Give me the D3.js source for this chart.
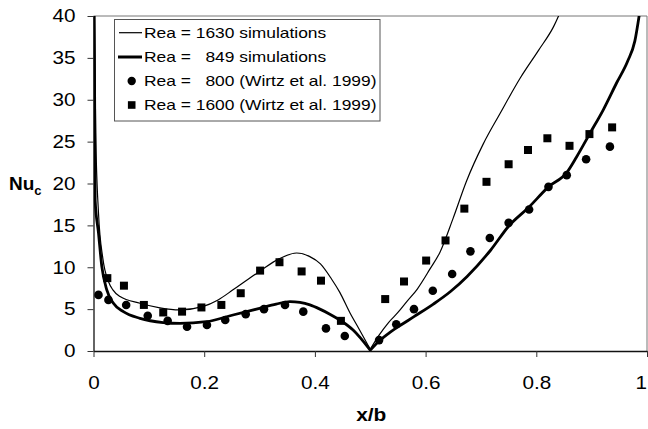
<!DOCTYPE html>
<html>
<head>
<meta charset="utf-8">
<script src="https://cdn.jsdelivr.net/npm/d3@7"></script>
<style>
  html, body { margin: 0; padding: 0; background: #fff; }
  svg { display: block; font-family: "Liberation Sans", Arial, sans-serif; }
</style>
</head>
<body>
<svg id="chart" width="648" height="429"></svg>
<script>
// ---------- data ----------
const xTicks = [0, 0.2, 0.4, 0.6, 0.8, 1];
const xTickLabels = ["0", "0.2", "0.4", "0.6", "0.8", "1"];
const yTicks = [0, 5, 10, 15, 20, 25, 30, 35, 40];
const yTickLabels = ["0", "5", "10", "15", "20", "25", "30", "35", "40"];

const legendLabels = [
  "Rea = 1630 simulations",
  "Rea =   849 simulations",
  "Rea =   800 (Wirtz et al. 1999)",
  "Rea = 1600 (Wirtz et al. 1999)"
];

// Rea = 1630 simulations (thin line)
const sim1630X = [0.001, 0.004, 0.009, 0.017, 0.027, 0.035, 0.048, 0.084, 0.12, 0.155, 0.197, 0.225, 0.252, 0.28, 0.30, 0.335, 0.367, 0.39, 0.41, 0.43, 0.445, 0.463, 0.48, 0.5,
                  0.515, 0.533, 0.55, 0.566, 0.585, 0.608, 0.626, 0.65, 0.674, 0.704, 0.734, 0.771, 0.804, 0.831, 0.85];
const sim1630Y = [44, 26, 16.5, 11, 8.3, 7.3, 6.5, 5.7, 5.15, 4.9, 5.3, 6.1, 7.3, 8.6, 9.5, 11.0, 11.7, 11.3, 10.4, 8.6, 7.0, 4.6, 2.6, 0.2,
                  1.8, 3.4, 4.6, 5.9, 7.4, 9.8, 11.8, 15.9, 20.3, 24.7, 28.3, 32.6, 35.9, 38.7, 41.5];

// Rea = 849 simulations (thick line)
const sim849X = [0.001, 0.003, 0.009, 0.015, 0.024, 0.036, 0.054, 0.084, 0.126, 0.156, 0.204, 0.252, 0.30, 0.33, 0.355, 0.373, 0.391, 0.409, 0.427, 0.445, 0.469, 0.5,
                 0.516, 0.535, 0.553, 0.579, 0.614, 0.645, 0.675, 0.717, 0.75, 0.787, 0.822, 0.855, 0.873, 0.897, 0.921, 0.945, 0.965, 0.978, 0.988];
const sim849Y = [44, 18, 14.1, 10.1, 7.3, 5.7, 4.7, 3.9, 3.4, 3.3, 3.5, 4.3, 5.1, 5.6, 5.9, 5.8, 5.5, 5.0, 4.4, 3.7, 2.5, 0.1,
                 1.2, 2.2, 3.0, 4.1, 5.6, 7.1, 8.9, 12.0, 14.9, 17.2, 19.6, 21.3, 23.2, 26.0, 28.8, 32.0, 34.6, 37, 41];

// Rea = 800 (Wirtz et al. 1999) - circles
const wirtz800X = [0.009, 0.027, 0.059, 0.098, 0.134, 0.169, 0.205, 0.238, 0.275, 0.308, 0.346, 0.379, 0.420, 0.454,
                   0.516, 0.547, 0.579, 0.613, 0.648, 0.681, 0.716, 0.750, 0.787, 0.822, 0.855, 0.890, 0.933];
const wirtz800Y = [6.7, 6.1, 5.5, 4.2, 3.6, 2.9, 3.1, 3.7, 4.4, 5.0, 5.5, 4.7, 2.7, 1.8,
                   1.3, 3.2, 5.0, 7.2, 9.2, 11.9, 13.5, 15.3, 16.9, 19.6, 21.0, 22.9, 24.4];

// Rea = 1600 (Wirtz et al. 1999) - squares
const wirtz1600X = [0.025, 0.055, 0.091, 0.126, 0.160, 0.195, 0.231, 0.266, 0.301, 0.336, 0.376, 0.411, 0.447,
                    0.527, 0.561, 0.601, 0.636, 0.670, 0.710, 0.750, 0.785, 0.820, 0.860, 0.896, 0.937];
const wirtz1600Y = [8.7, 7.8, 5.5, 4.6, 4.7, 5.2, 5.5, 6.9, 9.6, 10.6, 9.5, 8.4, 3.6,
                    6.2, 8.3, 10.8, 13.2, 17.0, 20.2, 22.3, 24.0, 25.4, 24.5, 25.9, 26.7];

// ---------- layout ----------
const svg = d3.select("#chart");
const L = 93.5, R = 647, T = 16, B = 351;
const x = d3.scaleLinear().domain([0, 1]).range([L, R]);
const y = d3.scaleLinear().domain([0, 40]).range([B, T]);
const stretch = 1.15;

svg.append("defs").append("clipPath").attr("id", "plotClip")
  .append("rect").attr("x", L).attr("y", T).attr("width", R - L).attr("height", B - T);

// frame (top & right)
svg.append("path")
  .attr("d", `M${L},${T}H${R}V${B}`)
  .attr("fill", "none").attr("stroke", "#777").attr("stroke-width", 1);

// axes
const xAxis = svg.append("g").attr("transform", `translate(0,${B})`)
  .call(d3.axisBottom(x).tickValues(xTicks).tickFormat((d, i) => xTickLabels[i])
        .tickSizeInner(6).tickSizeOuter(0).tickPadding(19));
const yAxis = svg.append("g").attr("transform", `translate(${L},0)`)
  .call(d3.axisLeft(y).tickValues(yTicks).tickFormat((d, i) => yTickLabels[i])
        .tickSizeInner(6).tickSizeOuter(0).tickPadding(12));

[xAxis, yAxis].forEach(g => {
  g.select(".domain").attr("stroke", "#111").attr("stroke-width", 1.3);
  g.selectAll(".tick line").attr("stroke", "#333").attr("stroke-width", 1);
  g.selectAll(".tick text").attr("fill", "#000")
    .attr("font-size", 18).attr("font-family", "Liberation Sans, Arial, sans-serif");
});
xAxis.selectAll(".tick text").attr("transform", `scale(${stretch},1)`);
// keep the last label ("1") inside the page at the right edge
xAxis.selectAll(".tick text").filter(d => d === 1)
  .attr("text-anchor", "end").attr("x", -0.5 / stretch);
yAxis.selectAll(".tick text").attr("x", -18 / stretch).attr("transform", `scale(${stretch},1)`);

// axis titles
svg.append("text")
  .attr("transform", `translate(${(L + R) / 2 + 1},421) scale(1.1,1)`)
  .attr("text-anchor", "middle").attr("font-weight", "bold").attr("font-size", 19)
  .text("x/b");
const nu = svg.append("text").attr("x", 9).attr("y", 189.5)
  .attr("font-weight", "bold").attr("font-size", 19);
nu.append("tspan").text("Nu");
nu.append("tspan").attr("font-size", 13).attr("dy", 5).text("c");

// ---------- lines ----------
function pairs(xs, ys) { return xs.map((v, i) => [v, ys[i]]); }
const lineGen = d3.line().x(d => x(d[0])).y(d => y(d[1])).curve(d3.curveMonotoneX);
function splitPath(pts) {
  const left = pts.filter(d => d[0] <= 0.5);
  const right = pts.filter(d => d[0] >= 0.5);
  return lineGen(left) + lineGen(right);
}

const plot = svg.append("g").attr("clip-path", "url(#plotClip)");
plot.append("path")
  .attr("d", splitPath(pairs(sim1630X, sim1630Y)))
  .attr("fill", "none").attr("stroke", "#000").attr("stroke-width", 1.2);
plot.append("path")
  .attr("d", splitPath(pairs(sim849X, sim849Y)))
  .attr("fill", "none").attr("stroke", "#000").attr("stroke-width", 2.8);

// markers
plot.selectAll("circle.w800").data(pairs(wirtz800X, wirtz800Y)).enter()
  .append("circle").attr("class", "w800")
  .attr("cx", d => x(d[0])).attr("cy", d => y(d[1])).attr("r", 4.3).attr("fill", "#000");
const sq = 8;
plot.selectAll("rect.w1600").data(pairs(wirtz1600X, wirtz1600Y)).enter()
  .append("rect").attr("class", "w1600")
  .attr("x", d => x(d[0]) - sq / 2).attr("y", d => y(d[1]) - sq / 2)
  .attr("width", sq).attr("height", sq).attr("fill", "#000");

// ---------- legend ----------
const lg = svg.append("g");
lg.append("rect").attr("x", 114.5).attr("y", 19.5).attr("width", 265.5).attr("height", 101.5)
  .attr("fill", "#fff").attr("stroke", "#555").attr("stroke-width", 1);
const rowBase = [37.7, 62, 86, 110];
const rowMid = rowBase.map(b => b - 5);
legendLabels.forEach((t, i) => {
  lg.append("text")
    .attr("transform", `translate(144,${rowBase[i]}) scale(1.16,1)`)
    .attr("font-size", 15).attr("fill", "#000")
    .style("white-space", "pre")
    .text(t);
});
lg.append("line").attr("x1", 119).attr("x2", 142).attr("y1", rowMid[0]).attr("y2", rowMid[0])
  .attr("stroke", "#000").attr("stroke-width", 1.2);
lg.append("line").attr("x1", 118).attr("x2", 142).attr("y1", rowMid[1]).attr("y2", rowMid[1])
  .attr("stroke", "#000").attr("stroke-width", 3);
lg.append("circle").attr("cx", 131.7).attr("cy", rowMid[2]).attr("r", 4.2).attr("fill", "#000");
lg.append("rect").attr("x", 131.7 - 3.8).attr("y", rowMid[3] - 3.8).attr("width", 7.6).attr("height", 7.6)
  .attr("fill", "#000");
</script>
</body>
</html>
